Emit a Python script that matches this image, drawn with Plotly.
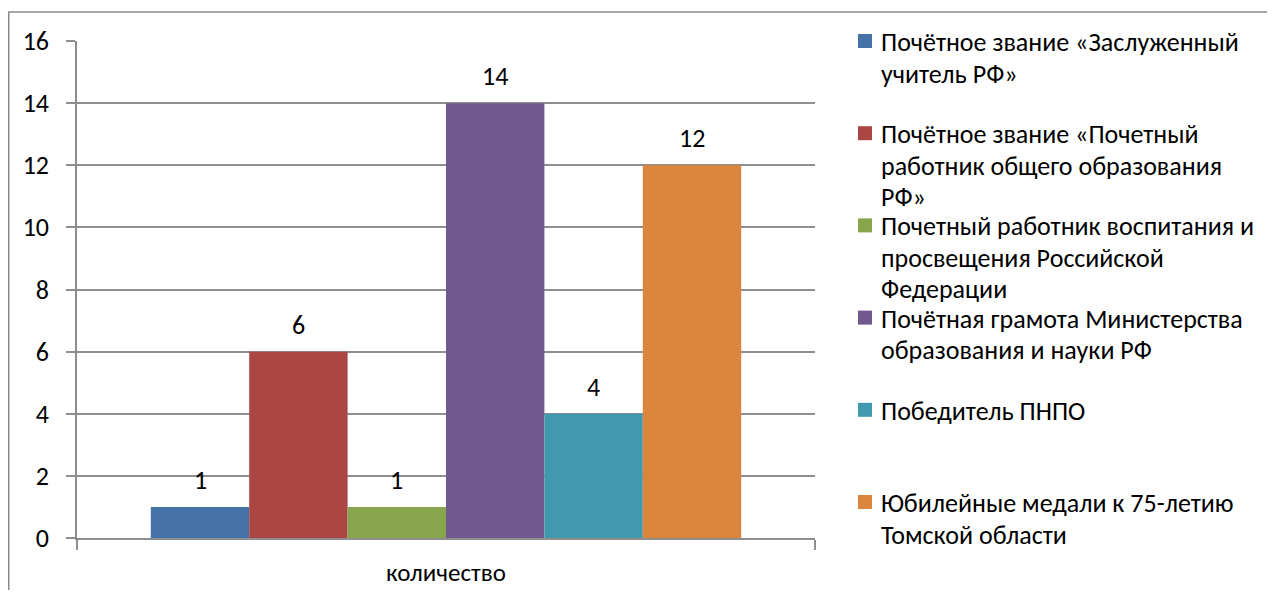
import plotly.graph_objects as go

category = ["количество"]
series_names = [
    "Почётное звание «Заслуженный учитель РФ»",
    "Почётное звание «Почетный работник общего образования РФ»",
    "Почетный работник воспитания и просвещения Российской Федерации",
    "Почётная грамота Министерства образования и науки РФ",
    "Победитель ПНПО",
    "Юбилейные медали к 75-летию Томской области",
]
legend_lines = [
    ["Почётное звание «Заслуженный", "учитель РФ»"],
    ["Почётное звание «Почетный", "работник общего образования", "РФ»"],
    ["Почетный работник воспитания и", "просвещения Российской", "Федерации"],
    ["Почётная грамота Министерства", "образования и науки РФ"],
    ["Победитель ПНПО"],
    ["Юбилейные медали к 75-летию", "Томской области"],
]
values = [1, 6, 1, 14, 4, 12]
colors = ["#4572A7", "#AA4643", "#89A54E", "#71588F", "#4198AF", "#DB843D"]
y_ticks = [0, 2, 4, 6, 8, 10, 12, 14, 16]

# page has an 8px body margin: figure origin sits at (8, 8) of the window
OFF = 8
W, H = 1275 - 2 * OFF, 598 - 2 * OFF
PLOT_L, PLOT_R, PLOT_T, PLOT_B = 77, 815, 41, 538   # window pixels
ML, MT = PLOT_L - OFF, PLOT_T - OFF
MR, MB = W - (PLOT_R - OFF), H - (PLOT_B - OFF)
PW, PH = PLOT_R - PLOT_L, PLOT_B - PLOT_T
BARGAP = 0.2
FONT = "Calibri, Carlito, Lato, sans-serif"
FS = 26
LFS = 26
GRID = "#8E8E8E"


def px_x(px):
    return (px - PLOT_L) / PW


def px_y(py):
    return (PLOT_B - py) / PH


fig = go.Figure()
for name, v, c in zip(series_names, values, colors):
    fig.add_trace(go.Bar(x=category, y=[v], name=name, marker=dict(color=c, line=dict(width=0)),
                         showlegend=False))

# data labels above bars
n = len(values)
bar_px = PW * (1 - BARGAP) / n
annotations = []
for i, v in enumerate(values):
    annotations.append(dict(x=category[0], y=v, xref="x", yref="y", text=str(v), showarrow=False,
                            xshift=(i - (n - 1) / 2) * bar_px, yshift=27, yanchor="middle",
                            font=dict(family=FONT, size=FS, color="#000")))

# manual legend
shapes = []
first_y = 42
item_step = 92.2
line_step = 31.5
for k, (lines, c) in enumerate(zip(legend_lines, colors)):
    y0 = first_y + k * item_step
    shapes.append(dict(type="rect", xref="paper", yref="paper",
                       x0=px_x(858), x1=px_x(872), y0=px_y(y0 - 8), y1=px_y(y0 + 6),
                       fillcolor=c, line=dict(width=0)))
    for j, t in enumerate(lines):
        annotations.append(dict(x=px_x(879), y=px_y(y0 + j * line_step), xref="paper", yref="paper",
                                text=t, showarrow=False, xanchor="left", yanchor="middle",
                                font=dict(family=FONT, size=LFS, color="#000")))

# outer frame lines
shapes.append(dict(type="line", xref="paper", yref="paper", x0=px_x(3), x1=px_x(1290),
                   y0=px_y(12), y1=px_y(12), line=dict(color="#8A8A8A", width=1.5)))
shapes.append(dict(type="line", xref="paper", yref="paper", x0=px_x(8.75), x1=px_x(8.75),
                   y0=px_y(12), y1=px_y(610), line=dict(color="#8A8A8A", width=1.5)))

fig.update_layout(
    width=W, height=H,
    margin=dict(l=ML, r=MR, t=MT, b=MB, pad=0, autoexpand=False),
    paper_bgcolor="white", plot_bgcolor="white",
    barmode="group", bargap=BARGAP, bargroupgap=0,
    showlegend=False,
    font=dict(family=FONT, size=FS, color="#000"),
    annotations=annotations,
    shapes=shapes,
)
fig.update_xaxes(automargin=False, showline=True, linecolor=GRID, linewidth=1.5, ticks="outside",
                 tickson="boundaries", ticklen=10, tickcolor=GRID, tickwidth=1.5, showgrid=False,
                 tickfont=dict(family=FONT, size=25, color="#000"), ticklabelstandoff=11)
fig.update_yaxes(automargin=False, range=[0, 16], tickvals=y_ticks, showline=True, linecolor=GRID,
                 linewidth=1.5, ticks="outside", ticklen=9, tickcolor=GRID, tickwidth=1.5,
                 showgrid=True, gridcolor=GRID, gridwidth=1.5, zeroline=False,
                 tickfont=dict(family=FONT, size=FS, color="#000"), ticklabelstandoff=12)

fig.write_html("out.html")
